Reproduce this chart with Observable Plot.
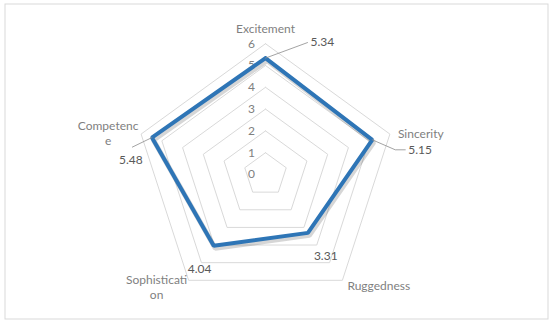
<!DOCTYPE html>
<html>
<head>
<meta charset="utf-8">
<script src="https://cdn.jsdelivr.net/npm/d3@7"></script>
<script src="https://cdn.jsdelivr.net/npm/@observablehq/plot@0.6"></script>
<style>
  html, body { margin: 0; padding: 0; background: #fff; }
  svg { display: block; }
</style>
</head>
<body>
<div id="chart"></div>
<script>
// ---- data ----
const categories = ["Excitement", "Sincerity", "Ruggedness", "Sophistication", "Competence"];
const categoryLabels = ["Excitement", "Sincerity", "Ruggedness", "Sophisticati\non", "Competenc\ne"];
const values = [5.34, 5.15, 3.31, 4.04, 5.48];
const tickValues = [0, 1, 2, 3, 4, 5, 6];
const maxValue = 6;

// ---- layout ----
const W = 550, H = 321;
const cx = 265, cy = 174;      // centre in pixels
const k = 21.8;                // pixels per value unit
const n = categories.length;
const angle = i => Math.PI / 2 - (2 * Math.PI * i) / n; // start at top, clockwise
const pt = (i, r) => ({x: r * Math.cos(angle(i)), y: r * Math.sin(angle(i))});

// grid pentagons
const grid = [];
for (const t of tickValues.filter(v => v > 0)) {
  for (let i = 0; i <= n; i++) grid.push({level: t, ...pt(i % n, t)});
}
// series polygon
const series = [];
for (let i = 0; i <= n; i++) series.push({cat: categories[i % n], ...pt(i % n, values[i % n])});

// label offsets (pixels) relative to vertices
const catOff = [
  {dx: 0, dy: -16, anchor: "middle"},
  {dx: 8, dy: -1, anchor: "start"},
  {dx: 5, dy: 5, anchor: "start"},
  {dx: -32, dy: 6, anchor: "middle"},
  {dx: -33, dy: -1, anchor: "middle"}
];
const valOff = [
  {dx: 45, dy: -15.5, anchor: "start", leader: [[42, -15.5]]},
  {dx: 36, dy: 10.5, anchor: "start", leader: [[23, 10], [33, 10]]},
  {dx: 6, dy: 23, anchor: "start", leader: null},
  {dx: -26, dy: 23, anchor: "start", leader: null},
  {dx: -21, dy: 23, anchor: "middle", leader: [[-19.5, 9.5]]}
];

const font = "Lato, 'Open Sans', sans-serif";
const marks = [
  Plot.frame({stroke: "#d9d9d9", insetLeft: 4.5, insetTop: 3.5, insetRight: 2.5, insetBottom: 2.5}),
  Plot.line(grid, {x: "x", y: "y", z: "level", stroke: "#d9d9d9", strokeWidth: 1}),
  Plot.text(tickValues, {x: 0, y: d => d, text: d => String(d), dx: -14, fill: "#808080", fontSize: 12, textAnchor: "middle"}),
  // shadow
  Plot.line(series, {x: "x", y: "y", stroke: "#000", strokeOpacity: 0.16, strokeWidth: 5, dx: 1.5, dy: 2.5, strokeLinejoin: "miter"}),
  Plot.line(series, {x: "x", y: "y", stroke: "#2E75B6", strokeWidth: 4, strokeLinejoin: "miter"})
];

categories.forEach((c, i) => {
  const p = pt(i, maxValue);
  const o = catOff[i];
  marks.push(Plot.text([{...p, label: categoryLabels[i]}], {
    x: "x", y: "y", text: "label", dx: o.dx, dy: o.dy, textAnchor: o.anchor,
    fill: "#7f7f7f", fontSize: 12, lineHeight: 1.25
  }));
  const v = pt(i, values[i]);
  const vo = valOff[i];
  if (vo.leader) {
    const path = [{x: v.x, y: v.y}, ...vo.leader.map(([ox, oy]) => ({x: v.x + ox / k, y: v.y - oy / k}))];
    marks.push(Plot.line(path, {x: "x", y: "y", stroke: "#8c8c8c", strokeWidth: 0.8}));
  }
  marks.push(Plot.text([{...v, label: values[i].toFixed(2)}], {
    x: "x", y: "y", text: "label", dx: vo.dx, dy: vo.dy, textAnchor: vo.anchor,
    fill: "#595959", fontSize: 12
  }));
});

const chart = Plot.plot({
  width: W, height: H,
  margin: 0,
  style: {fontFamily: font, background: "#fff"},
  x: {domain: [-cx / k, (W - cx) / k], range: [0, W], axis: null},
  y: {domain: [-(H - cy) / k, cy / k], range: [H, 0], axis: null},
  marks
});
document.getElementById("chart").appendChild(chart);
</script>
</body>
</html>
